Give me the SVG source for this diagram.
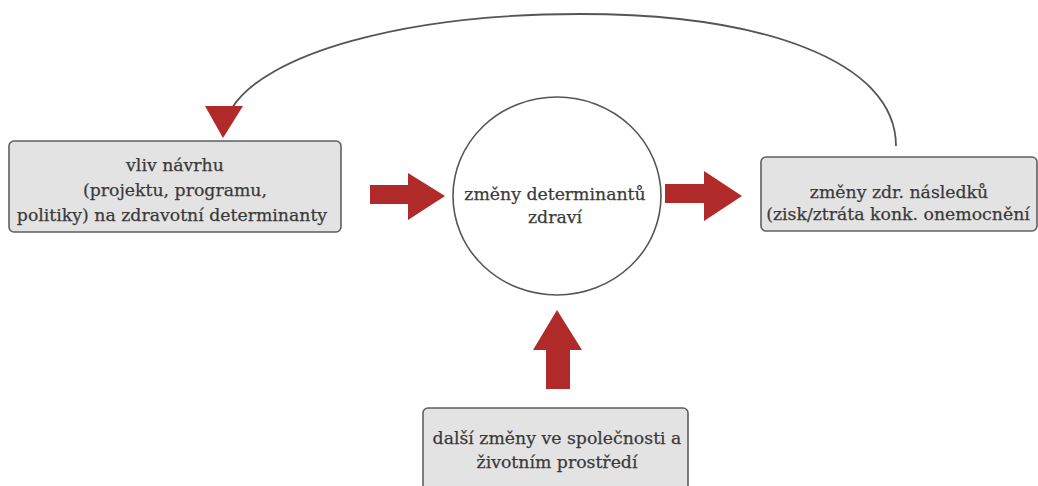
<svg xmlns="http://www.w3.org/2000/svg" width="1038" height="486" viewBox="0 0 1038 486">
  <defs>
    <style>
      .box { fill: #e3e3e3; stroke: #5f5f5f; stroke-width: 1.6; }
      .ring { fill: #ffffff; stroke: #555555; stroke-width: 1.6; }
      .lbl { font-family: "DejaVu Serif", "Liberation Serif", serif; font-size: 17.3px; fill: #3a3a3a; stroke: #3a3a3a; stroke-width: 0.25; text-anchor: middle; }
      .big { fill: #b02a2a; }
      .loop { fill: none; stroke: #555555; stroke-width: 1.8; }
    </style>
  </defs>
  <rect width="1038" height="486" fill="#ffffff"/>

  <g id="connectors">
    <!-- feedback loop from outcomes back to the proposal -->
    <path class="loop" d="M896,146 C 896,60 760,14 580,14 C 400,14 265,55 232,108"/>
    <polygon class="big" points="205,106 243,106 223,138"/>
    <!-- proposal -> determinants -->
    <polygon class="big" points="370,185 408,185 408,173 445,196 408,220 408,204 370,204"/>
    <!-- determinants -> outcomes -->
    <polygon class="big" points="665,184 704,184 704,171 742,196 704,221 704,203 665,203"/>
    <!-- other changes -> determinants -->
    <polygon class="big" points="546,389 546,350 533,350 557,310 582,350 570,350 570,389"/>
  </g>

  <g id="node-proposal">
    <rect class="box" x="9" y="141" width="332" height="91" rx="5"/>
    <text class="lbl" x="175" y="171">vliv návrhu</text>
    <text class="lbl" x="175" y="196">(projektu, programu,</text>
    <text class="lbl" x="172" y="221">politiky) na zdravotní determinanty</text>
  </g>

  <g id="node-determinants">
    <ellipse class="ring" cx="557" cy="196" rx="104" ry="99"/>
    <text class="lbl" x="555" y="200">změny determinantů</text>
    <text class="lbl" x="555" y="223">zdraví</text>
  </g>

  <g id="node-outcomes">
    <rect class="box" x="761" y="157" width="276" height="74" rx="5"/>
    <text class="lbl" x="899" y="198">změny zdr. následků</text>
    <text class="lbl" x="898" y="220">(zisk/ztráta konk. onemocnění</text>
  </g>

  <g id="node-other-changes">
    <rect class="box" x="423" y="408" width="265" height="90" rx="5"/>
    <text class="lbl" x="557" y="444">další změny ve společnosti a</text>
    <text class="lbl" x="557" y="468">životním prostředí</text>
  </g>
</svg>
